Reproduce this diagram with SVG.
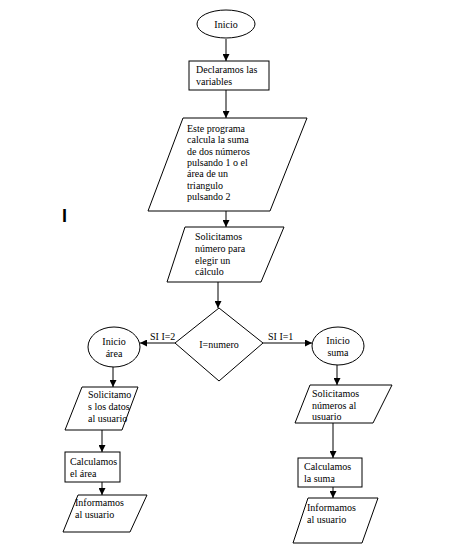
<svg xmlns="http://www.w3.org/2000/svg" width="474" height="550" viewBox="0 0 474 550">
<style>
.s{fill:#fff;stroke:#000;stroke-width:1}
.t{font-family:"Liberation Serif","Times New Roman",serif;font-size:10px;fill:#000}
.c{text-anchor:middle}
.l{fill:none;stroke:#000;stroke-width:1}
</style>
<defs>
<marker id="a" viewBox="0 0 10 10" refX="10" refY="5" markerWidth="7" markerHeight="7" orient="auto" markerUnits="userSpaceOnUse">
<path d="M0,0 L10,5 L0,10 z" fill="#000"/>
</marker>
</defs>
<rect width="474" height="550" fill="#fff"/>
<g id="connectors">
<line class="l" x1="226" y1="39" x2="226" y2="61" marker-end="url(#a)"/>
<line class="l" x1="226" y1="90" x2="226" y2="118" marker-end="url(#a)"/>
<line class="l" x1="226" y1="211" x2="226" y2="227" marker-end="url(#a)"/>
<line class="l" x1="218" y1="282" x2="218" y2="308" marker-end="url(#a)"/>
<line class="l" x1="175" y1="343" x2="140" y2="343" marker-end="url(#a)"/>
<line class="l" x1="263" y1="343" x2="312" y2="343" marker-end="url(#a)"/>
<line class="l" x1="113" y1="367" x2="113" y2="387" marker-end="url(#a)"/>
<line class="l" x1="102" y1="430" x2="102" y2="452" marker-end="url(#a)"/>
<line class="l" x1="102" y1="482" x2="102" y2="495" marker-end="url(#a)"/>
<line class="l" x1="337" y1="365" x2="337" y2="385" marker-end="url(#a)"/>
<line class="l" x1="333" y1="423" x2="333" y2="458" marker-end="url(#a)"/>
<line class="l" x1="333" y1="487" x2="333" y2="498" marker-end="url(#a)"/>
<text class="t" x="150" y="340">SI I=2</text>
<text class="t" x="268" y="340">SI I=1</text>
</g>
<g id="inicio">
<ellipse class="s" cx="226" cy="24" rx="29" ry="14"/>
<text class="t c" x="226" y="28">Inicio</text>
</g>
<g id="declaramos">
<rect class="s" x="189" y="61" width="80" height="29"/>
<text class="t" x="196" y="73">Declaramos las</text>
<text class="t" x="196" y="85">variables</text>
</g>
<g id="programa">
<polygon class="s" points="183,118 307,118 270,211 148,211"/>
<text class="t" x="187" y="132">Este programa</text>
<text class="t" x="187" y="143">calcula la suma</text>
<text class="t" x="187" y="155">de dos números</text>
<text class="t" x="187" y="166">pulsando 1 o el</text>
<text class="t" x="187" y="177">área de un</text>
<text class="t" x="187" y="189">triangulo</text>
<text class="t" x="187" y="200">pulsando 2</text>
</g>
<g id="solicitamos-numero">
<polygon class="s" points="185,227 284,227 261,282 167,282"/>
<text class="t" x="195" y="240">Solicitamos</text>
<text class="t" x="195" y="252">número para</text>
<text class="t" x="195" y="264">elegir un</text>
<text class="t" x="195" y="275">cálculo</text>
</g>
<g id="decision">
<polygon class="s" points="219,308 263,343 219,381 175,343"/>
<text class="t c" x="219" y="348">I=numero</text>
</g>
<g id="inicio-area">
<ellipse class="s" cx="114" cy="347" rx="26" ry="20"/>
<text class="t c" x="114" y="345">Inicio</text>
<text class="t c" x="114" y="357">área</text>
</g>
<g id="inicio-suma">
<ellipse class="s" cx="338" cy="346" rx="26" ry="19"/>
<text class="t c" x="338" y="344">Inicio</text>
<text class="t c" x="338" y="356">suma</text>
</g>
<g id="solicitamos-datos">
<polygon class="s" points="82,387 138,387 122,430 65,430"/>
<text class="t" x="88" y="398">Solicitamo</text>
<text class="t" x="88" y="410">s los datos</text>
<text class="t" x="88" y="422">al usuario</text>
</g>
<g id="calculamos-area">
<rect class="s" x="65" y="452" width="55" height="30"/>
<text class="t" x="70" y="465">Calculamos</text>
<text class="t" x="70" y="477">el área</text>
</g>
<g id="informamos-area">
<polygon class="s" points="78,495 147,495 130,532 63,532"/>
<text class="t" x="75" y="506">Informamos</text>
<text class="t" x="75" y="518">al usuario</text>
</g>
<g id="solicitamos-numeros">
<polygon class="s" points="310,385 392,385 373,423 295,423"/>
<text class="t" x="312" y="397">Solicitamos</text>
<text class="t" x="312" y="409">números al</text>
<text class="t" x="312" y="420">usuario</text>
</g>
<g id="calculamos-suma">
<rect class="s" x="298" y="458" width="64" height="29"/>
<text class="t" x="304" y="470">Calculamos</text>
<text class="t" x="304" y="482">la suma</text>
</g>
<g id="informamos-suma">
<polygon class="s" points="308,498 378,498 362,543 293,543"/>
<text class="t" x="307" y="511">Informamos</text>
<text class="t" x="307" y="523">al usuario</text>
</g>
<text x="62" y="222" style="font-family:'Liberation Sans',sans-serif;font-size:18px;font-weight:bold">I</text>
</svg>
